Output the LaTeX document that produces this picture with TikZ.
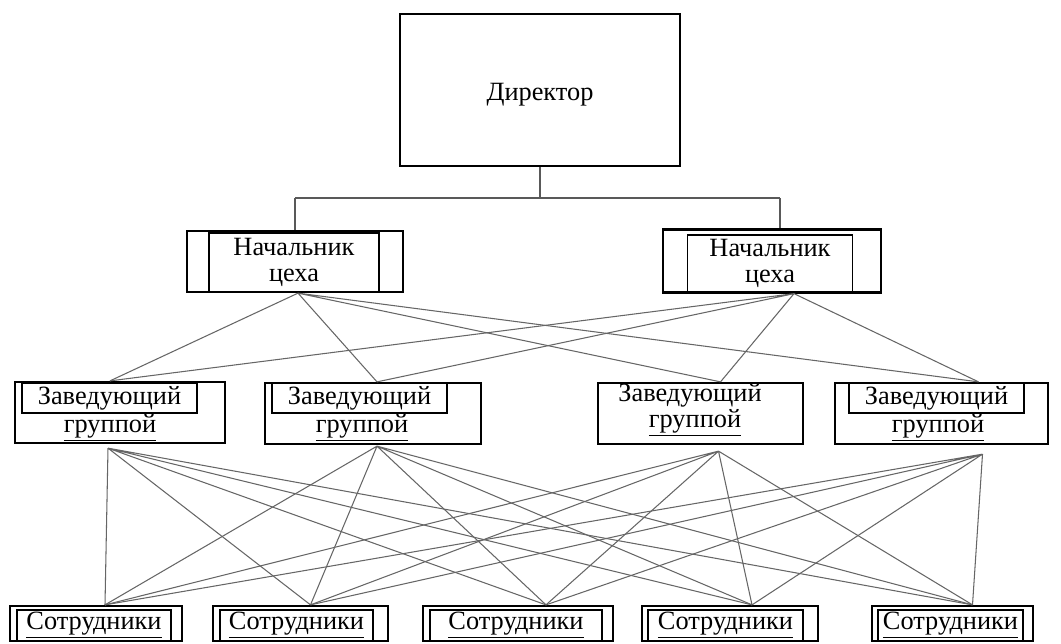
\documentclass[tikz,border=0pt]{standalone}
\usepackage{fontspec}
\setmainfont{Liberation Serif}
\usepackage{tikz}
\usetikzlibrary{calc}
\tikzset{
  chiefbox/.style={draw=black,line width=1.3pt,inner sep=0pt},
  framebox/.style={draw=black,line width=.8pt,inner sep=0pt,align=center,
    font=\fontsize{15}{14.5}\selectfont},
  plaintext/.style={inner sep=0pt,anchor=base,font=\fontsize{15}{14.5}\selectfont},
  tree/.style={draw=black!65,line width=.7pt},
  link/.style={draw=black!60,line width=.6pt}
}

\begin{document}
\begin{tikzpicture}[x=0.02cm,y=-0.02cm]
\useasboundingbox (0,0) rectangle (1061,643);

\node[chiefbox,minimum width=5.6cm,minimum height=3.04cm] (dir) at (540,90) {};
\node[plaintext] (dirt) at (540,100) {Директор};

\node[chiefbox,minimum width=4.32cm,minimum height=1.22cm] (n1) at (295,261.5) {};
\node[framebox,minimum width=3.4cm,minimum height=1.18cm] (n1f) at (294,262.5)
  {Начальник\\цеха};
\node[chiefbox,minimum width=4.36cm,minimum height=1.26cm] (n2) at (772,261) {};
\node[framebox,minimum width=3.3cm,minimum height=1.14cm] (n2f) at (770,263.5)
  {Начальник\\цеха};

\node[chiefbox,minimum width=4.2cm,minimum height=1.22cm] (z1) at (120,412.5) {};
\node[framebox,minimum width=3.5cm,minimum height=.6cm] (z1f) at (109.5,398) {Заведующий};
\node[plaintext] (z1g) at (110,432) {\underline{группой}};
\node[chiefbox,minimum width=4.32cm,minimum height=1.22cm] (z2) at (373,413.5) {};
\node[framebox,minimum width=3.5cm,minimum height=.6cm] (z2f) at (359.5,398) {Заведующий};
\node[plaintext] (z2g) at (362,432) {\underline{группой}};
\node[chiefbox,minimum width=4.1cm,minimum height=1.22cm] (z3) at (700.5,413.5) {};
\node[plaintext] (z3z) at (690,401) {Заведующий};
\node[plaintext] (z3g) at (695,427) {\underline{группой}};
\node[chiefbox,minimum width=4.26cm,minimum height=1.22cm] (z4) at (941.5,413.5) {};
\node[framebox,minimum width=3.5cm,minimum height=.6cm] (z4f) at (936.5,398) {Заведующий};
\node[plaintext] (z4g) at (938,432) {\underline{группой}};

\node[chiefbox,minimum width=3.44cm,minimum height=.7cm] (s1) at (96,623.5) {};
\node[framebox,minimum width=3.08cm,minimum height=.62cm] (s1f) at (94,625.5) {\underline{Сотрудники}};
\node[chiefbox,minimum width=3.5cm,minimum height=.7cm] (s2) at (300.5,623.5) {};
\node[framebox,minimum width=3.06cm,minimum height=.62cm] (s2f) at (296.5,625.5) {\underline{Сотрудники}};
\node[chiefbox,minimum width=3.8cm,minimum height=.7cm] (s3) at (518,623.5) {};
\node[framebox,minimum width=3.44cm,minimum height=.62cm] (s3f) at (516,625.5) {\underline{Сотрудники}};
\node[chiefbox,minimum width=3.52cm,minimum height=.7cm] (s4) at (730,623.5) {};
\node[framebox,minimum width=3.1cm,minimum height=.62cm] (s4f) at (725.5,625.5) {\underline{Сотрудники}};
\node[chiefbox,minimum width=3.22cm,minimum height=.7cm] (s5) at (952.5,623.5) {};
\node[framebox,minimum width=2.9cm,minimum height=.62cm] (s5f) at (950.5,625.5) {\underline{Сотрудники}};

% fan points on the box edges
\coordinate (busl) at (n1.north |- 0,198);
\coordinate (busr) at (780,198);
\coordinate (n1b) at ($(n1.south)+(3,0)$);
\coordinate (n2b) at ($(n2.south)+(22,0)$);
\coordinate (z1t) at ($(z1.north)+(-10,0)$);
\coordinate (z2t) at ($(z2.north)+(4,0)$);
\coordinate (z3t) at ($(z3.north)+(20,0)$);
\coordinate (z4t) at ($(z4.north)+(37,0)$);
\coordinate (z1b) at ($(z1.south)+(-12,4)$);
\coordinate (z2b) at ($(z2.south)+(4,1)$);
\coordinate (z3b) at ($(z3.south)+(18,6)$);
\coordinate (z4b) at ($(z4.south)+(41,9)$);
\coordinate (s1t) at ($(s1.north)+(9,0)$);
\coordinate (s2t) at ($(s2.north)+(10,0)$);
\coordinate (s3t) at ($(s3.north)+(28,0)$);
\coordinate (s4t) at ($(s4.north)+(22,0)$);
\coordinate (s5t) at ($(s5.north)+(20,0)$);

\draw[tree] (dir.south) -- (dir.south |- busl);
\draw[tree] (busl) -- (busr);
\draw[tree] (busl) -- (n1.north);
\draw[tree] (busr) -- (busr |- n2.north);

\draw[link] (n1b) -- (z1t) (n1b) -- (z2t) (n1b) -- (z3t) (n1b) -- (z4t);
\draw[link] (n2b) -- (z1t) (n2b) -- (z2t) (n2b) -- (z3t) (n2b) -- (z4t);

\draw[link] (z1b) -- (s1t) (z1b) -- (s2t) (z1b) -- (s3t) (z1b) -- (s4t) (z1b) -- (s5t);
\draw[link] (z2b) -- (s1t) (z2b) -- (s2t) (z2b) -- (s3t) (z2b) -- (s4t) (z2b) -- (s5t);
\draw[link] (z3b) -- (s1t) (z3b) -- (s2t) (z3b) -- (s3t) (z3b) -- (s4t) (z3b) -- (s5t);
\draw[link] (z4b) -- (s1t) (z4b) -- (s2t) (z4b) -- (s3t) (z4b) -- (s4t) (z4b) -- (s5t);
\end{tikzpicture}
\end{document}
